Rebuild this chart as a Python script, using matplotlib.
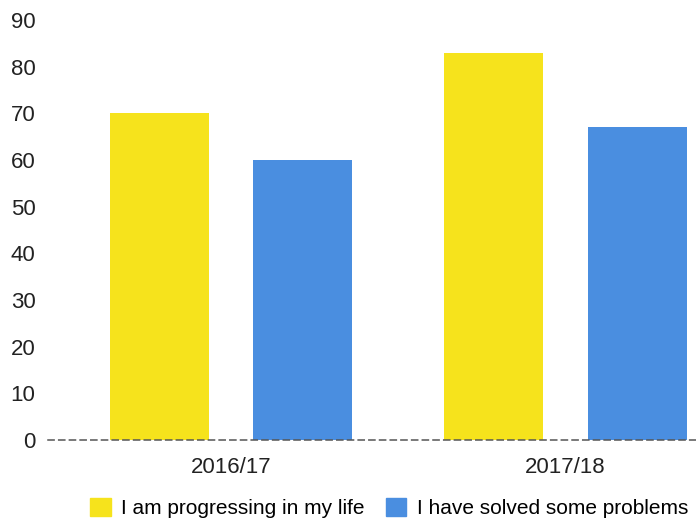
import numpy as np
import matplotlib.pyplot as plt
from matplotlib.patches import Patch

plt.rcParams['font.family'] = ['Liberation Sans', 'DejaVu Sans']

years = ["2016/17", "2017/18"]
progressing = [70, 83]
solved = [60, 67]
series_names = ["I am progressing in my life", "I have solved some problems"]
yticks = [0, 10, 20, 30, 40, 50, 60, 70, 80, 90]

YELLOW = "#F6E31C"
BLUE = "#4A8EE0"


def main():
    fig = plt.figure(figsize=(6.96, 5.21), dpi=100)
    ax = fig.add_axes([48 / 696, 1 - 440 / 521, 1 - 48 / 696, (440 - 20) / 521])

    x = np.arange(len(years))
    w = 0.296
    off = 0.214
    ax.bar(x - off, progressing, w, color=YELLOW, zorder=1)
    ax.bar(x + off, solved, w, color=BLUE, zorder=1)

    ax.set_xlim(-0.547, 1.39)
    ax.set_ylim(0, 90)
    ax.set_yticks(yticks)
    ax.set_xticks(x)
    ax.set_xticklabels(years)

    for s in ["left", "right", "top"]:
        ax.spines[s].set_visible(False)
    ax.spines["bottom"].set_color("#555555")
    ax.spines["bottom"].set_linestyle((0, (4, 3)))
    ax.spines["bottom"].set_linewidth(1.1)
    ax.spines["bottom"].set_zorder(3)
    ax.tick_params(axis="both", length=0, labelsize=16, colors="#222222")
    ax.tick_params(axis="y", pad=9)
    ax.tick_params(axis="x", pad=12)

    handles = [Patch(color=YELLOW), Patch(color=BLUE)]
    fig.legend(handles, series_names, loc="center", ncol=2,
               bbox_to_anchor=(0.559, 1 - 508 / 521), frameon=False,
               fontsize=15, handlelength=1.0, handleheight=1.0,
               handletextpad=0.5, columnspacing=1.0)

    plt.savefig("out.png", dpi=100)


if __name__ == '__main__':
    main()
